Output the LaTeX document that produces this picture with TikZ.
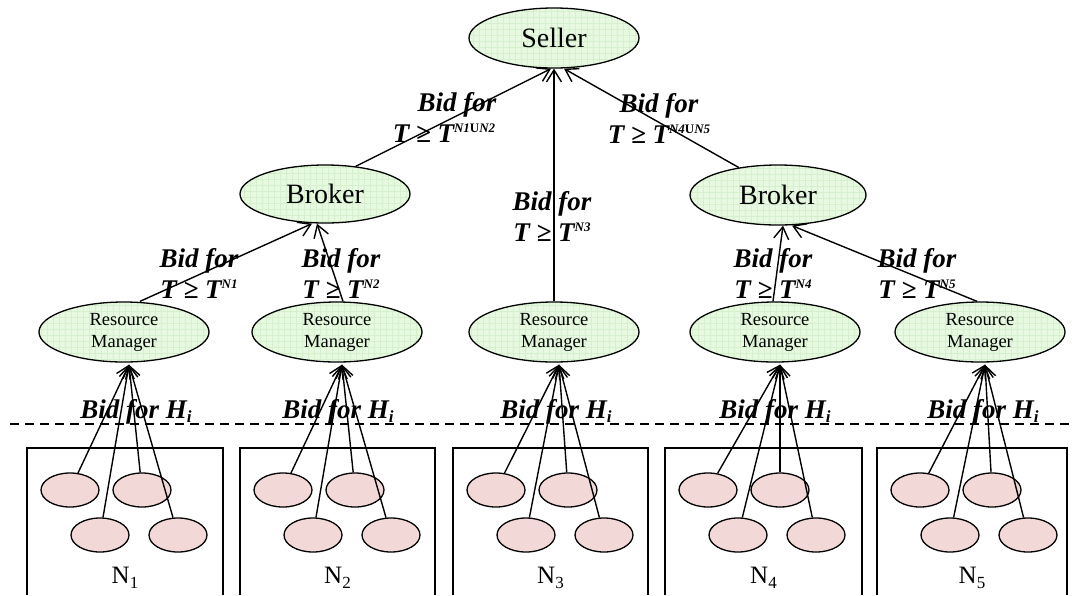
\documentclass[tikz,border=0pt]{standalone}
\usepackage{fontspec}
\setmainfont{Liberation Serif}
\usetikzlibrary{arrows.meta,shapes.geometric}

\definecolor{nodegreen}{RGB}{231,250,225}
\definecolor{gridgreen}{RGB}{214,240,206}
\definecolor{hostpink}{RGB}{243,216,216}

% small raised / lowered indices for the bid labels
\newcommand\bidsup[1]{\raisebox{9.5pt}{\fontsize{13}{13}\selectfont #1}}
\newcommand\bidsub[1]{\raisebox{-4pt}{\fontsize{17}{17}\selectfont #1}}
\newcommand\netsub[1]{\raisebox{-5pt}{\fontsize{17}{17}\selectfont #1}}

\begin{document}
\begin{tikzpicture}[x=1pt,y=-1pt,
  every node/.style={inner sep=0pt},
  agent/.style={ellipse, draw, line width=1.3pt, fill=nodegreen,
    minimum width=170pt, minimum height=60pt,
    path picture={\draw[gridgreen,line width=0.3pt]
      (path picture bounding box.south west) grid[step=6pt]
      (path picture bounding box.north east);}},
  bigtext/.style={font=\fontsize{28}{30}\selectfont},
  rmtext/.style={font=\fontsize{18.5}{22}\selectfont, align=center},
  host/.style={ellipse, draw, line width=1.3pt, fill=hostpink,
    minimum width=58pt, minimum height=34pt},
  bid/.style={font=\fontsize{27}{31}\selectfont\bfseries\itshape, align=center},
  hbid/.style={font=\fontsize{27}{31}\selectfont\bfseries\itshape, anchor=base},
  netlabel/.style={font=\fontsize{25}{28}\selectfont, anchor=base},
  link/.style={line width=1.4pt, -{Straight Barb[length=12pt,width=15pt]}},
  pool/.style={line width=1.3pt}]
\useasboundingbox (0,0) rectangle (1073,595);

% seller, brokers and resource managers
\node[agent, bigtext] (seller) at (554,38) {Seller};
\node[agent, bigtext, minimum height=58pt] (brL) at (325,194) {Broker};
\node[agent, bigtext, minimum width=176pt] (brR) at (778,195) {Broker};
\node[agent, rmtext] (rm1) at (124,332) {Resource\\Manager};
\node[agent, rmtext] (rm2) at (337,332) {Resource\\Manager};
\node[agent, rmtext] (rm3) at (554,332) {Resource\\Manager};
\node[agent, rmtext] (rm4) at (775,332) {Resource\\Manager};
\node[agent, rmtext] (rm5) at (980,332) {Resource\\Manager};

% boundary between the resource managers and the host pools
\draw[line width=1.3pt, dash pattern=on 9pt off 6pt] (10,424) -- (1073,424);

% host pools N1..N5 with their hosts
\foreach \i/\bx/\rx in {1/27/223, 2/240/435, 3/453/648, 4/665/862, 5/877/1067} {
  \draw[pool] (\bx,595) |- (\rx,448) -- (\rx,595);
  \node[host] (h\i a) at (\bx+43,490) {};
  \node[host] (h\i b) at (\bx+115,490) {};
  \node[host] (h\i c) at (\bx+73,535) {};
  \node[host] (h\i d) at (\bx+151,535) {};
  \node[netlabel] (n\i) at ({(\bx+\rx)/2},583) {N\netsub{\i}};
}

% host bids up to the resource managers
\foreach \i in {1,...,5} {
  \foreach \h in {a,b,c,d}
    \draw[link] (h\i\h) -- ([xshift=5pt,yshift=-2pt]rm\i.south);
}

% resource managers to brokers and seller
\draw[link] ([xshift=16pt]rm1.north) -- ([xshift=-13pt]brL.south);
\draw[link] ([xshift=6pt]rm2.north) -- ([xshift=-8pt]brL.south);
\draw[link] ([xshift=-2pt]rm4.north) -- ([xshift=5pt]brR.south);
\draw[link] ([xshift=-3pt]rm5.north) -- ([xshift=14pt]brR.south);
\draw[link] (rm3.north) -- (seller.south);
\draw[link] (brL.42) -- ([xshift=-3pt]seller.south);
\draw[link] (brR.145) -- ([xshift=10pt]seller.south);

% bid labels
\node[bid] (bidS1) at (457,117) {Bid for\\T ≥ T\bidsup{N1{\upshape U}N2}\hspace*{26pt}};
\node[bid] (bidS2) at (659,118) {Bid for\\T ≥ T\bidsup{N4{\upshape U}N5}};
\node[bid] (bidS3) at (552,216) {Bid for\\T ≥ T\bidsup{N3}};
\node[bid] (bidB1) at (199,273) {Bid for\\T ≥ T\bidsup{N1}};
\node[bid] (bidB2) at (341,273) {Bid for\\T ≥ T\bidsup{N2}};
\node[bid] (bidB4) at (773,273) {Bid for\\T ≥ T\bidsup{N4}};
\node[bid] (bidB5) at (917,273) {Bid for\\T ≥ T\bidsup{N5}};
\node[hbid] (bidH1) at (136,418) {Bid for H\bidsub{i}};
\node[hbid] (bidH2) at (338,418) {Bid for H\bidsub{i}};
\node[hbid] (bidH3) at (556,418) {Bid for H\bidsub{i}};
\node[hbid] (bidH4) at (775,418) {Bid for H\bidsub{i}};
\node[hbid] (bidH5) at (983,418) {Bid for H\bidsub{i}};
\end{tikzpicture}
\end{document}
